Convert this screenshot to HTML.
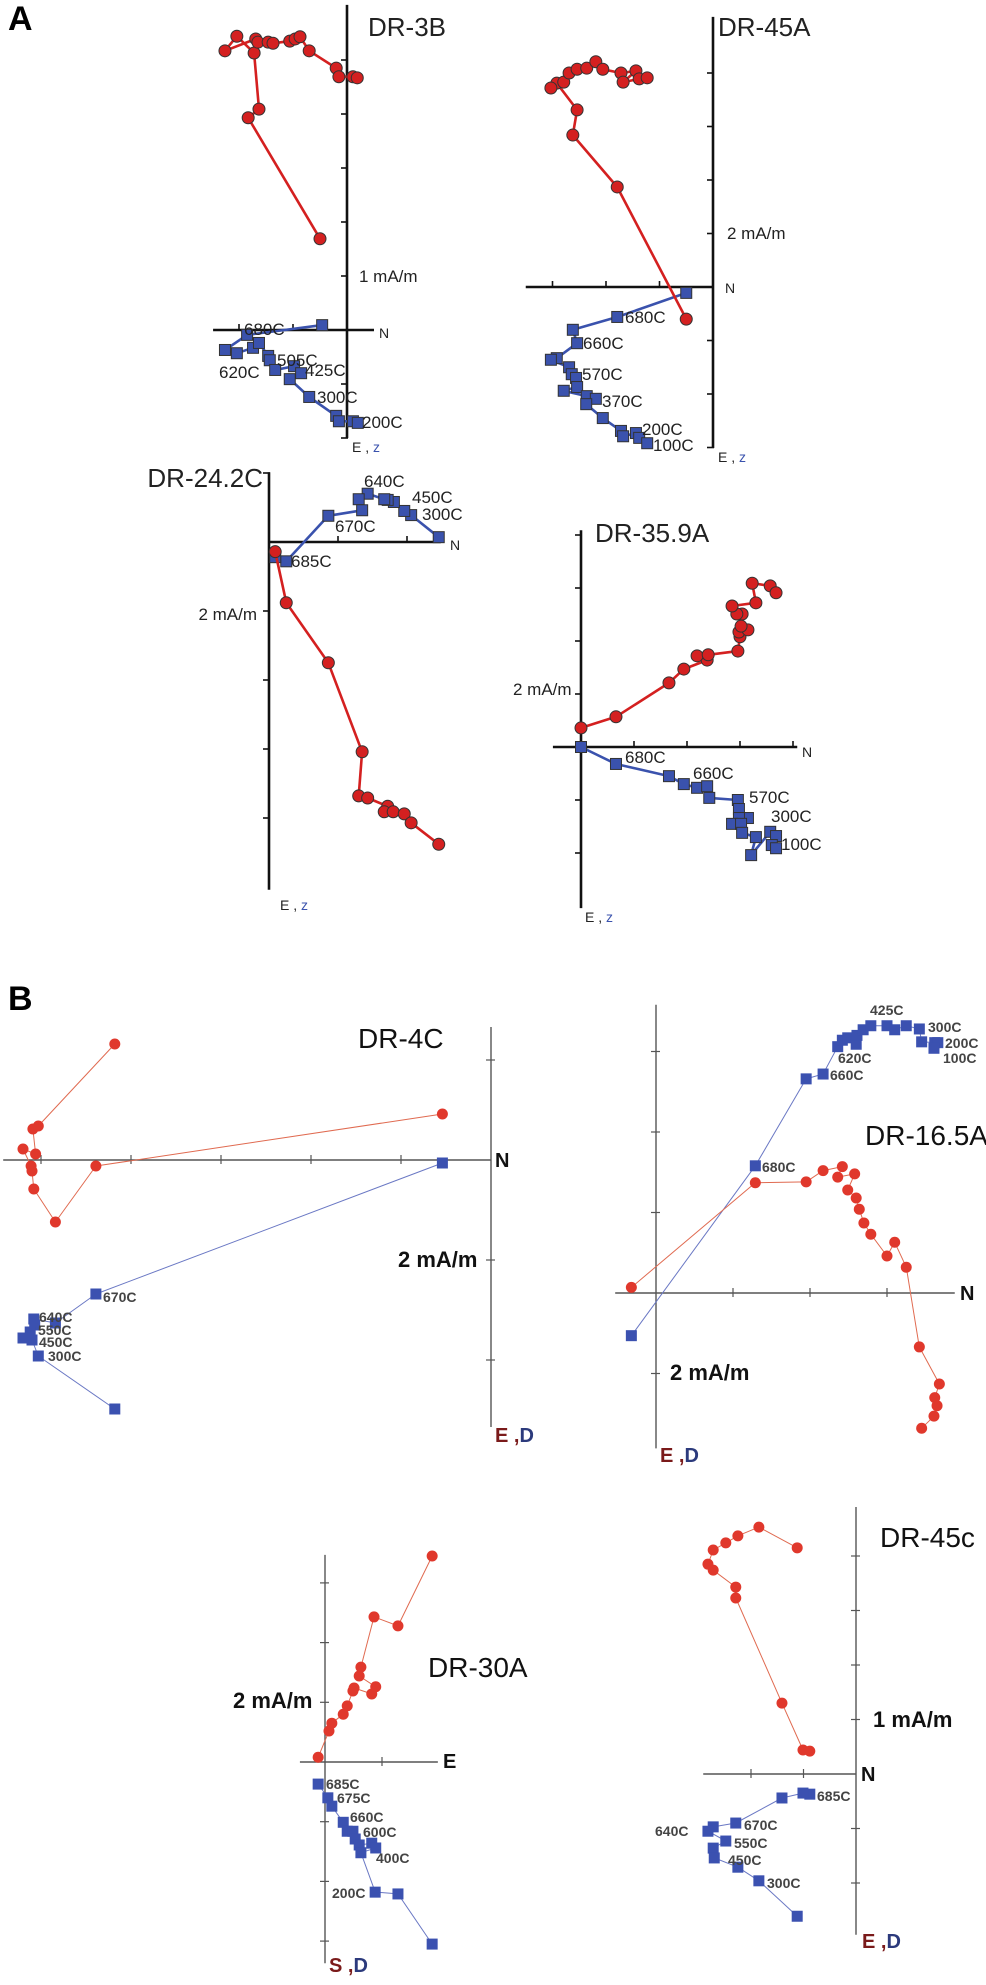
<!DOCTYPE html>
<html><head><meta charset="utf-8">
<style>
html,body{margin:0;padding:0;background:#fff;}
svg{display:block;font-family:"Liberation Sans",sans-serif;}
</style></head>
<body>
<svg id="fig" width="986" height="1985" viewBox="0 0 986 1985" xmlns="http://www.w3.org/2000/svg">
<text x="8" y="30" font-size="34" font-weight="bold">A</text>
<text x="8" y="1010" font-size="34" font-weight="bold">B</text>
</svg>
<script>
// ---- data (units: tick intervals from origin; x = N/E horizontal, y = up) ----
const dr3bRedX=[-0.50,-1.83,-1.63,-1.72,-2.04,-2.26,-1.69,-1.65,-1.46,-1.37,-1.06,-0.96,-0.87,-0.70,-0.20,-0.15,0.11,0.19];
const dr3bRedY=[1.69,3.93,4.09,5.13,5.44,5.17,5.39,5.33,5.33,5.31,5.35,5.39,5.43,5.17,4.85,4.69,4.69,4.67];
const dr3bBlueX=[-0.46,-1.85,-2.26,-2.04,-1.74,-1.63,-1.46,-1.43,-1.33,-0.98,-0.85,-1.06,-0.70,-0.20,-0.15,0.11,0.20];
const dr3bBlueY=[0.09,-0.09,-0.37,-0.43,-0.33,-0.24,-0.48,-0.56,-0.74,-0.67,-0.80,-0.91,-1.24,-1.59,-1.69,-1.69,-1.72];

const dr45aRedX=[-0.50,-1.79,-2.62,-2.54,-2.92,-3.03,-2.79,-2.69,-2.54,-2.36,-2.19,-2.06,-1.72,-1.44,-1.68,-1.38,-1.23];
const dr45aRedY=[-0.60,1.87,2.84,3.31,3.81,3.72,3.83,4.00,4.07,4.09,4.21,4.07,4.00,4.04,3.83,3.89,3.91];
const dr45aBlueX=[-0.50,-1.79,-2.62,-2.54,-2.92,-3.03,-2.69,-2.64,-2.56,-2.54,-2.79,-2.36,-2.19,-2.37,-2.06,-1.72,-1.68,-1.44,-1.38,-1.23];
const dr45aBlueY=[-0.11,-0.56,-0.80,-1.05,-1.33,-1.36,-1.50,-1.63,-1.70,-1.87,-1.94,-2.04,-2.09,-2.19,-2.45,-2.69,-2.79,-2.73,-2.82,-2.92];

const dr24BlueX=[2.46,2.06,1.96,1.81,1.72,1.67,1.43,1.30,1.35,0.86,0.25,0.09];
const dr24BlueY=[0.07,0.39,0.45,0.58,0.61,0.62,0.70,0.62,0.46,0.38,-0.28,-0.22];
const dr24RedX=[0.09,0.25,0.86,1.35,1.30,1.43,1.72,1.67,1.80,1.96,2.06,2.46];
const dr24RedY=[-0.14,-0.88,-1.75,-3.04,-3.68,-3.71,-3.83,-3.91,-3.91,-3.94,-4.07,-4.38];

const dr35RedX=[0,0.66,1.66,1.94,2.38,2.19,2.40,2.96,3.00,2.98,3.15,3.02,3.04,2.94,2.85,3.30,3.23,3.57,3.68];
const dr35RedY=[0.36,0.57,1.21,1.47,1.64,1.72,1.74,1.81,2.08,2.17,2.21,2.28,2.51,2.51,2.66,2.72,3.09,3.04,2.91];
const dr35BlueX=[0,0.66,1.66,1.94,2.19,2.38,2.42,2.96,2.98,3.15,2.98,2.85,3.02,3.04,3.30,3.21,3.57,3.68,3.60,3.68];
const dr35BlueY=[0,-0.32,-0.55,-0.70,-0.77,-0.74,-0.96,-1.00,-1.17,-1.34,-1.34,-1.45,-1.45,-1.62,-1.70,-2.04,-1.60,-1.68,-1.85,-1.91];

const dr4cRedX=[-0.54,-4.39,-4.84,-5.08,-5.10,-5.11,-5.20,-5.06,-5.09,-5.03,-4.18];
const dr4cRedY=[0.46,-0.06,-0.62,-0.29,-0.11,-0.06,0.11,0.06,0.31,0.34,1.16];
const dr4cBlueX=[-0.54,-4.39,-4.84,-5.08,-5.07,-5.12,-5.20,-5.10,-5.03,-4.18];
const dr4cBlueY=[-0.03,-1.34,-1.63,-1.59,-1.65,-1.72,-1.78,-1.80,-1.96,-2.49];

const dr16BlueX=[-0.32,1.29,1.95,2.17,2.36,2.42,2.49,2.60,2.61,2.69,2.79,3.00,3.10,3.25,3.42,3.45,3.62,3.66,3.61];
const dr16BlueY=[-0.53,1.58,2.66,2.72,3.06,3.14,3.17,3.09,3.20,3.27,3.32,3.32,3.27,3.32,3.28,3.12,3.11,3.11,3.04];
const dr16RedX=[-0.32,1.29,1.95,2.17,2.42,2.36,2.58,2.49,2.60,2.64,2.70,2.79,3.00,3.10,3.25,3.42,3.68,3.62,3.65,3.61,3.45];
const dr16RedY=[0.07,1.37,1.38,1.52,1.57,1.44,1.48,1.28,1.18,1.04,0.87,0.73,0.46,0.63,0.32,-0.67,-1.13,-1.30,-1.40,-1.53,-1.68];

const dr30RedX=[-0.12,0.07,0.12,0.32,0.39,0.49,0.51,0.82,0.89,0.60,0.63,0.86,1.28,1.88];
const dr30RedY=[0.08,0.52,0.65,0.80,0.94,1.19,1.24,1.14,1.26,1.44,1.59,2.43,2.28,3.45];
const dr30BlueX=[-0.12,0.05,0.12,0.32,0.39,0.49,0.53,0.60,0.82,0.89,0.63,0.88,1.28,1.88];
const dr30BlueY=[-0.37,-0.60,-0.74,-1.01,-1.16,-1.16,-1.29,-1.39,-1.36,-1.44,-1.52,-2.18,-2.21,-3.05];

const dr45cRedX=[-0.88,-1.01,-1.41,-2.29,-2.29,-2.72,-2.82,-2.72,-2.48,-2.25,-1.85,-1.12];
const dr45cRedY=[0.42,0.44,1.30,3.23,3.43,3.74,3.85,4.11,4.24,4.37,4.53,4.15];
const dr45cBlueX=[-0.88,-1.01,-1.41,-2.29,-2.72,-2.82,-2.48,-2.72,-2.70,-2.25,-1.85,-1.12];
const dr45cBlueY=[-0.37,-0.35,-0.44,-0.90,-0.97,-1.05,-1.23,-1.36,-1.54,-1.71,-1.96,-2.61];

// tick positions (data units)
const ticksDR3B_V=[5,4,3,2,1,-1,-2], ticksDR3B_H=[-2,-1];
const ticksDR45A_V=[4,3,2,1,-1,-2,-3], ticksDR45A_H=[-3,-2,-1];
const ticksDR24_V=[1,-1,-2,-3,-4], ticksDR24_H=[1,2];
const ticksDR35_V=[4,3,2,1,-1,-2], ticksDR35_H=[1,2,3,4];
const ticksDR4C_V=[1,-1,-2], ticksDR4C_H=[-5,-4,-3,-2,-1];
const ticksDR16_V=[3,2,1,-1], ticksDR16_H=[1,2,3];
const ticksDR30_V=[3,2,1,-1,-2,-3], ticksDR30_H=[1];
const ticksDR45C_V=[4,3,2,1,-1,-2], ticksDR45C_H=[-2,-1];

const NS='http://www.w3.org/2000/svg';
const svg=document.getElementById('fig');
function mk(tag,attrs,parent){const e=document.createElementNS(NS,tag);for(const k in attrs)e.setAttribute(k,attrs[k]);(parent||svg).appendChild(e);return e;}

function panel(cfg){
  const g=mk('g',{});
  
  
  const sx=v=>cfg.ox+v*cfg.tx, sy=v=>cfg.oy-v*cfg.ty;
  const A=cfg.style==='A';
  const axCol=A?'#111':'#555', axW=A?2.6:1.4;
  const vAx=mk('line',{x1:cfg.ox,y1:sy(cfg.vTop),x2:cfg.ox,y2:sy(cfg.vBot),stroke:axCol,'stroke-width':axW},g);
  
  
  const hAx=mk('line',{x1:sx(cfg.hL),y1:cfg.oy,x2:sx(cfg.hR),y2:cfg.oy,stroke:axCol,'stroke-width':axW},g);
  
  
  const tl=A?6:5;
  cfg.tv.forEach(t=>{const l=mk('line',{x1:cfg.ox-tl,y1:sy(t),x2:cfg.ox+(A?1:4),y2:sy(t),stroke:axCol,'stroke-width':A?1.6:1.2},g);
    
    });
  cfg.th.forEach(t=>{const l=mk('line',{x1:sx(t),y1:cfg.oy-tl,x2:sx(t),y2:cfg.oy+(A?1:4),stroke:axCol,'stroke-width':A?1.6:1.2},g);
    
    });
  const red=A?'#d42020':'#e0382c', blue=A?'#3a52ad':'#3b51b0';
  const lw=A?2.6:1;
  const lineCol=A?red:'#e06a50', lineColB=A?blue:'#6a78c4';
  const series=[[cfg.bx,cfg.by,'sq',lineColB,blue,'blue-series'],[cfg.rx,cfg.ry,'ci',lineCol,red,'red-series']];
  series.forEach(([X,Y,shape,lc,fc,nm])=>{
    const pts=X.map((v,i)=>sx(v).toFixed(1)+','+sy(Y[i]).toFixed(1)).join(' ');
    const pl=mk('polyline',{points:pts,fill:'none',stroke:lc,'stroke-width':lw,'stroke-linejoin':'round'},g);
    
    
    X.forEach((v,i)=>{
      let m;
      if(shape==='ci'){m=mk('circle',{cx:sx(v),cy:sy(Y[i]),r:A?6:5.5,fill:fc,stroke:A?'#333':'none','stroke-width':1},g);}
      else {const s=A?11:11;m=mk('rect',{x:sx(v)-s/2,y:sy(Y[i])-s/2,width:s,height:s,fill:fc,stroke:A?'#333':'none','stroke-width':1},g);}
      
      
    });
  });
  cfg.texts.forEach(t=>{
    const e=mk('text',{x:t[0],y:t[1],'font-size':t[3],fill:t[4]||'#222','font-weight':t[5]||'normal','text-anchor':t[6]||'start'},g);
    e.textContent=t[2];
    
    
  });
  cfg.axLab.forEach(t=>{
    const e=mk('text',{x:t[0],y:t[1],'font-size':t[2],'font-weight':t[5]||'normal'},g);
    
    
    const a=mk('tspan',{fill:t[3]},e);a.textContent=t[6];
    const b=mk('tspan',{fill:t[4]},e);b.textContent=t[7];
  });
}
const TA='#222', TB='#444';
panel({name:'plot-dr-3b',style:'A',ox:347,oy:330,tx:54,ty:54,vTop:6.02,vBot:-2.0,hL:-2.48,hR:0.5,tv:ticksDR3B_V,th:ticksDR3B_H,
 rx:dr3bRedX,ry:dr3bRedY,bx:dr3bBlueX,by:dr3bBlueY,
 texts:[[368,36,'DR-3B',26,TA,'normal','start','plot-title'],[359,282,'1 mA/m',17,TA,'normal','start','scale-label'],[379,338,'N',14,TA,'normal','start','north-label'],
  [244,335,'680C',17],[277,366,'505C',17],[219,378,'620C',17],[305,376,'425C',17],[317,403,'300C',17],[362,428,'200C',17]],
 axLab:[[352,452,14,'#222','#3a52ad','normal','E , ','z']]});
panel({name:'plot-dr-45a',style:'A',ox:713,oy:287,tx:53.5,ty:53.5,vTop:5.05,vBot:-3.01,hL:-3.5,hR:0,tv:ticksDR45A_V,th:ticksDR45A_H,
 rx:dr45aRedX,ry:dr45aRedY,bx:dr45aBlueX,by:dr45aBlueY,
 texts:[[718,36,'DR-45A',26,TA,'normal','start','plot-title'],[727,239,'2 mA/m',17,TA,'normal','start','scale-label'],[725,293,'N',14,TA,'normal','start','north-label'],
  [625,323,'680C',17],[583,349,'660C',17],[582,380,'570C',17],[602,407,'370C',17],[642,435,'200C',17],[653,451,'100C',17]],
 axLab:[[718,462,14,'#222','#3a52ad','normal','E , ','z']]});
panel({name:'plot-dr-24-2c',style:'A',ox:269,oy:542,tx:69,ty:69,vTop:1.01,vBot:-5.04,hL:0,hR:2.49,tv:ticksDR24_V,th:ticksDR24_H,
 rx:dr24RedX,ry:dr24RedY,bx:dr24BlueX,by:dr24BlueY,
 texts:[[263,487,'DR-24.2C',26,TA,'normal','end','plot-title'],[257,620,'2 mA/m',17,TA,'normal','end','scale-label'],[450,550,'N',14,TA,'normal','start','north-label'],
  [364,487,'640C',17],[412,503,'450C',17],[422,520,'300C',17],[335,532,'670C',17],[291,567,'685C',17]],
 axLab:[[280,910,14,'#222','#3a52ad','normal','E , ','z']]});
panel({name:'plot-dr-35-9a',style:'A',ox:581,oy:747,tx:53,ty:53,vTop:4.09,vBot:-3.04,hL:-0.53,hR:4.08,tv:ticksDR35_V,th:ticksDR35_H,
 rx:dr35RedX,ry:dr35RedY,bx:dr35BlueX,by:dr35BlueY,
 texts:[[595,542,'DR-35.9A',26,TA,'normal','start','plot-title'],[513,695,'2 mA/m',17,TA,'normal','start','scale-label'],[802,757,'N',14,TA,'normal','start','north-label'],
  [625,763,'680C',17],[693,779,'660C',17],[749,803,'570C',17],[771,822,'300C',17],[781,850,'100C',17]],
 axLab:[[585,922,14,'#222','#3a52ad','normal','E , ','z']]});
panel({name:'plot-dr-4c',style:'B',ox:491,oy:1160,tx:90,ty:100,vTop:1.33,vBot:-2.67,hL:-5.42,hR:0,tv:ticksDR4C_V,th:ticksDR4C_H,
 rx:dr4cRedX,ry:dr4cRedY,bx:dr4cBlueX,by:dr4cBlueY,
 texts:[[358,1048,'DR-4C',28,'#111','normal','start','plot-title'],[398,1267,'2 mA/m',22,'#111','bold','start','scale-label'],[495,1167,'N',20,'#111','bold','start','north-label'],
  [103,1302,'670C',14,TB,'bold'],[39,1322,'640C',14,TB,'bold'],[38,1335,'550C',14,TB,'bold'],[39,1347,'450C',14,TB,'bold'],[48,1361,'300C',14,TB,'bold']],
 axLab:[[495,1442,20,'#7a1a1a','#2c3a7c','bold','E ,','D']]});
panel({name:'plot-dr-16-5a',style:'B',ox:656,oy:1293,tx:77,ty:80.5,vTop:3.58,vBot:-1.93,hL:-0.53,hR:3.88,tv:ticksDR16_V,th:ticksDR16_H,
 rx:dr16RedX,ry:dr16RedY,bx:dr16BlueX,by:dr16BlueY,
 texts:[[865,1145,'DR-16.5A',28,'#111','normal','start','plot-title'],[670,1380,'2 mA/m',22,'#111','bold','start','scale-label'],[960,1300,'N',20,'#111','bold','start','north-label'],
  [870,1015,'425C',14,TB,'bold'],[928,1032,'300C',14,TB,'bold'],[945,1048,'200C',14,TB,'bold'],[943,1063,'100C',14,TB,'bold'],[838,1063,'620C',14,TB,'bold'],[830,1080,'660C',14,TB,'bold'],[762,1172,'680C',14,TB,'bold']],
 axLab:[[660,1462,20,'#7a1a1a','#2c3a7c','bold','E ,','D']]});
panel({name:'plot-dr-30a',style:'B',ox:325,oy:1762,tx:57,ty:59.7,vTop:3.47,vBot:-3.37,hL:-0.44,hR:1.98,tv:ticksDR30_V,th:ticksDR30_H,
 rx:dr30RedX,ry:dr30RedY,bx:dr30BlueX,by:dr30BlueY,
 texts:[[428,1677,'DR-30A',28,'#111','normal','start','plot-title'],[233,1708,'2 mA/m',22,'#111','bold','start','scale-label'],[443,1768,'E',20,'#111','bold','start','east-label'],
  [326,1789,'685C',14,TB,'bold'],[337,1803,'675C',14,TB,'bold'],[350,1822,'660C',14,TB,'bold'],[363,1837,'600C',14,TB,'bold'],[376,1863,'400C',14,TB,'bold'],[332,1898,'200C',14,TB,'bold']],
 axLab:[[329,1972,20,'#7a1a1a','#2c3a7c','bold','S ,','D']]});
panel({name:'plot-dr-45c',style:'B',ox:856,oy:1774,tx:52.5,ty:54.5,vTop:4.90,vBot:-2.95,hL:-2.91,hR:0,tv:ticksDR45C_V,th:ticksDR45C_H,
 rx:dr45cRedX,ry:dr45cRedY,bx:dr45cBlueX,by:dr45cBlueY,
 texts:[[880,1547,'DR-45c',28,'#111','normal','start','plot-title'],[873,1727,'1 mA/m',22,'#111','bold','start','scale-label'],[861,1781,'N',20,'#111','bold','start','north-label'],
  [817,1801,'685C',14,TB,'bold'],[744,1830,'670C',14,TB,'bold'],[655,1836,'640C',14,TB,'bold'],[734,1848,'550C',14,TB,'bold'],[728,1865,'450C',14,TB,'bold'],[767,1888,'300C',14,TB,'bold']],
 axLab:[[862,1948,20,'#7a1a1a','#2c3a7c','bold','E ,','D']]});
</script>
</body></html>
